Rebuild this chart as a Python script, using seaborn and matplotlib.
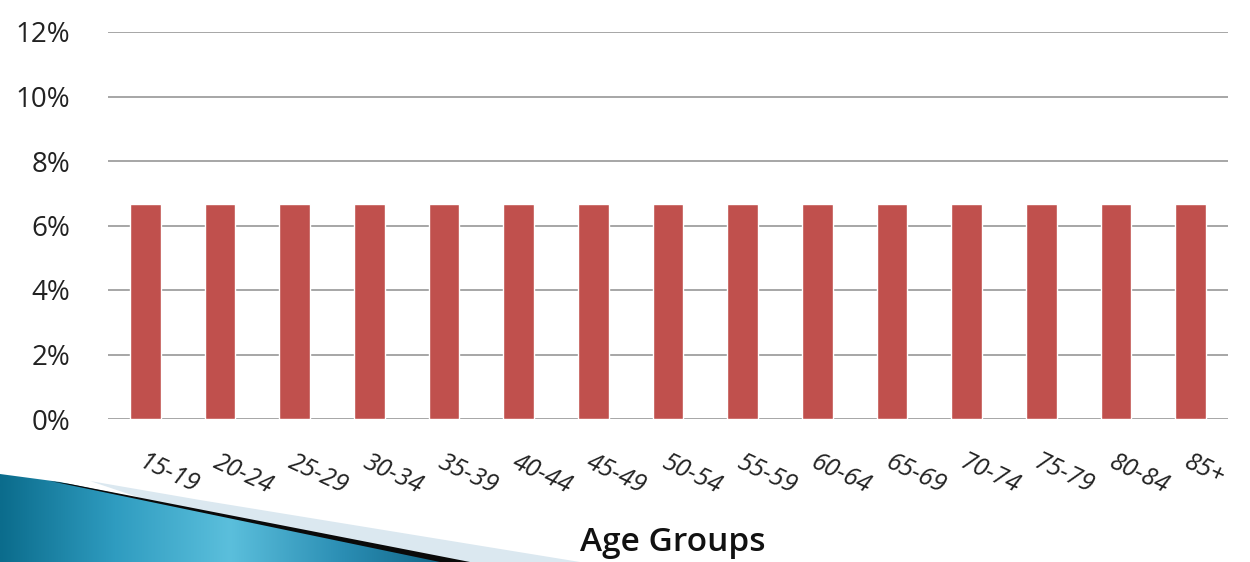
import numpy as np
import pandas as pd
import seaborn as sns
import matplotlib.pyplot as plt
from matplotlib.patches import Polygon
from matplotlib.ticker import FuncFormatter

# data
age_groups = ['15-19', '20-24', '25-29', '30-34', '35-39', '40-44', '45-49', '50-54',
              '55-59', '60-64', '65-69', '70-74', '75-79', '80-84', '85+']
share = [6.67, 6.67, 6.67, 6.67, 6.67, 6.67, 6.67, 6.67,
         6.67, 6.67, 6.67, 6.67, 6.67, 6.67, 6.67]
y_ticks = [0, 2, 4, 6, 8, 10, 12]

df = pd.DataFrame({'age': age_groups, 'share': share})

sns.set_style('white')
plt.rcParams['font.family'] = ['Open Sans', 'DejaVu Sans']

W, H = 1250, 562
fig = plt.figure(figsize=(12.5, 5.62), dpi=100)

# slide decoration (bottom-left swoosh), drawn in pixel coords
deco = fig.add_axes([0, 0, 1, 1], zorder=0)
deco.set_xlim(0, W)
deco.set_ylim(H, 0)
deco.axis('off')

light = Polygon([(90, 481), (200, 500), (580, 562), (330, 562)],
                closed=True, facecolor='#dbe8f0', edgecolor='none')
deco.add_patch(light)
blue_poly = Polygon([(0, 474), (60, 482), (450, 562), (0, 562)],
                    closed=True, facecolor='none', edgecolor='none')
deco.add_patch(blue_poly)
grad = np.linspace(0, 1, 256)
cmap = sns.blend_palette(['#0b6c8c', '#2f9cc0', '#5bbfdc', '#2a8db3', '#0d5f80'], as_cmap=True)
img = deco.imshow(np.tile(grad, (10, 1)), cmap=cmap, extent=(0, 460, 562, 470),
                  aspect='auto', zorder=1)
img.set_clip_path(blue_poly)
black = Polygon([(50, 481), (70, 484), (470, 562), (440, 562)],
                closed=True, facecolor='#0a0a0a', edgecolor='none', zorder=2)
deco.add_patch(black)

ax = fig.add_axes([108 / W, 1 - 419 / H, (1228 - 108) / W, (419 - 32) / H], zorder=1)
ax.patch.set_alpha(0)
sns.barplot(data=df, x='age', y='share', color='#c0504d', saturation=1,
            width=0.41, ax=ax, zorder=3)

ax.set_ylim(0, 12)
ax.set_yticks(y_ticks)
ax.yaxis.set_major_formatter(FuncFormatter(lambda v, p: f'{int(v)}%'))
ax.grid(axis='y', color='#a6a6a6', linewidth=1.4, zorder=0)
ax.set_axisbelow(True)
for s in ax.spines.values():
    s.set_visible(False)
ax.tick_params(axis='y', length=0, pad=27, labelsize=20, labelcolor='#222222')
ax.tick_params(axis='x', length=0, pad=22, labelsize=18)
for lbl in ax.get_xticklabels():
    lbl.set_rotation(-25)
    lbl.set_ha('left')
    lbl.set_va('top')
    lbl.set_rotation_mode('anchor')
    lbl.set_fontstyle('italic')
    lbl.set_color('#222222')

ax.set_xlabel('')
ax.set_ylabel('')
fig.text(673 / W, 1 - 551 / H, 'Age Groups', ha='center', va='baseline',
         fontsize=24, fontweight='semibold', color='#111111')

fig.savefig('out.png', dpi=100)
